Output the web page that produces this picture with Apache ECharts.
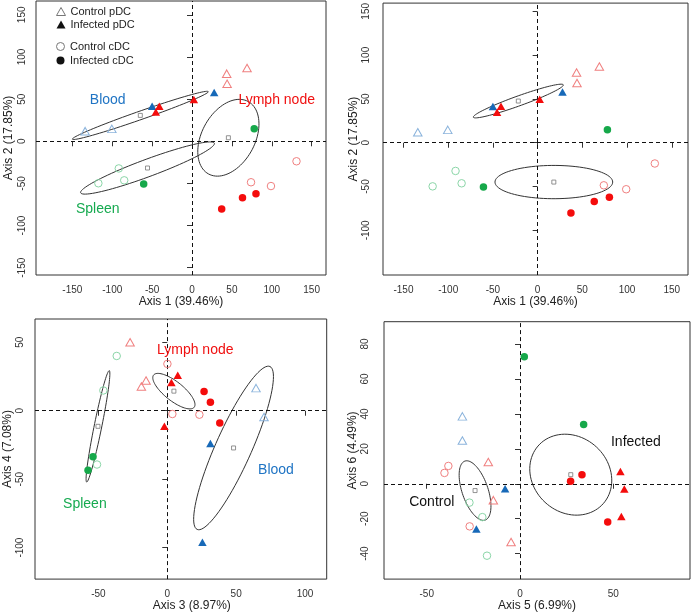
<!DOCTYPE html>
<html>
<head>
<meta charset="utf-8">
<script src="https://cdn.jsdelivr.net/npm/echarts/dist/echarts.min.js"></script>
<style>
html,body{margin:0;padding:0;background:#fff;}
#chart{width:691px;height:613px;}
</style>
</head>
<body>
<div id="chart"></div>
<script>
// ---------- Data: axes 1-2 (panels 1 and 2) ----------
const a12_ctrlPDC_blood  = [[-134, 12], [-100.5, 14.7]];
const a12_ctrlPDC_lymph  = [[43.5, 80.2], [44, 68.2], [69, 87]];
const a12_infPDC_blood   = [[-50, 41.5], [27.8, 57.8]];
const a12_infPDC_lymph   = [[-41, 41.7], [-45.4, 34.7], [2.3, 49.7]];
const a12_ctrlCDC_spleen = [[-91.8, -32.2], [-117.4, -49.8], [-85, -46.3]];
const a12_ctrlCDC_lymph  = [[131, -23.7], [74, -48.6], [99, -53.1]];
const a12_infCDC_spleen  = [[-60.6, -50.6], [78, 14.9]];
const a12_infCDC_lymph   = [[37.2, -80.2], [63.3, -67], [80.2, -62.2]];

// ---------- Data: axes 3-4 (panel 3) ----------
const a34_ctrlPDC_blood  = [[64.4, 16.5], [70.2, -4.6]];
const a34_ctrlPDC_lymph  = [[-27, 50], [-15.4, 22.1], [-18.8, 17.7]];
const a34_infPDC_blood   = [[31.3, -24], [25.5, -96.1]];
const a34_infPDC_lymph   = [[7.6, 26], [3, 20.6], [-2.1, -11.4]];
const a34_ctrlCDC_spleen = [[-36.7, 40], [-46.4, 14.8], [-51, -39.3]];
const a34_ctrlCDC_lymph  = [[0.1, 34.2], [3.7, -2.4], [23.3, -2.9]];
const a34_infCDC_spleen  = [[-53.9, -33.7], [-57.5, -43.4]];
const a34_infCDC_lymph   = [[26.7, 14.1], [31.3, 6.1], [38.1, -9]];

// ---------- Data: axes 5-6 (panel 4) ----------
const a56_ctrlPDC_blood  = [[-30.9, 38.6], [-30.9, 24.8]];
const a56_ctrlPDC_lymph  = [[-17, 12.5], [-14.3, -9.4], [-4.8, -33.4]];
const a56_infPDC_blood   = [[-8, -2.8], [-23.4, -25.9]];
const a56_infPDC_lymph   = [[53.8, 7], [55.9, -3], [54.3, -18.7]];
const a56_ctrlCDC_spleen = [[-27.1, -10.8], [-20.2, -19.1], [-17.7, -41.2]];
const a56_ctrlCDC_lymph  = [[-38.4, 10.2], [-40.5, 6.2], [-27, -24.4]];
const a56_infCDC_spleen  = [[2.3, 72.8], [34.1, 34]];
const a56_infCDC_lymph   = [[27.1, 1.5], [33.2, 5.1], [47, -21.9]];

// ---------- Ellipses: [centerX, centerY, majorEndX, majorEndY, minorEndX, minorEndY] ----------
const p1_ellipses = [
  [-64.8, 30.7, 20.4, 58.9, -66.6, 35.4],   // Blood
  [-55.8, -31.7, 28, -2.3, -59.5, -22.0],   // Spleen
  [45.6, 4.2, 70.6, 47.1, 74.7, -11.1]      // Lymph node
];
const p2_ellipses = [
  [-21.6, 47.6, 28.7, 66.1, -23.5, 52.9],
  [18.1, -44.9, 83.9, -44.9, 18.1, -25.9]
];
const p3_ellipses = [
  [-50.3, -11.4, -42.1, 29.3, -47.6, -12],  // Spleen
  [4.8, 14.3, 19.5, 2.5, 9.1, 19.7],        // Lymph node
  [48.1, -27.2, 74.5, 32.3, 60, -32.6]      // Blood
];
const p4_ellipses = [
  [-24.1, -3.9, -29.5, 13, -17.5, -1.6],    // Control
  [27.2, 5.2, 43.8, -12.3, 41.6, 20.4]      // Infected
];

// ---------- Group text labels ----------
const p1_labels = [['Blood', -105.7, 49.1, 'blood'], ['Lymph node', 106.2, 49.1, 'lymph'], ['Spleen', -118.2, -80.7, 'spleen']];
const p2_labels = [];
const p3_labels = [['Lymph node', 20.3, 44.4, 'lymph'], ['Spleen', -59.8, -67.9, 'spleen'], ['Blood', 78.9, -43.7, 'blood']];
const p4_labels = [['Infected', 62.1, 23.8, 'black'], ['Control', -47.3, -10.6, 'black']];

// ---------- Tick labels ----------
const p1_xTicks = [-150, -100, -50, 0, 50, 100, 150];
const p1_yTicks = [-150, -100, -50, 0, 50, 100, 150];
const p2_xTicks = [-150, -100, -50, 0, 50, 100, 150];
const p2_yTicks = [-100, -50, 0, 50, 100, 150];
const p3_xTicks = [-50, 0, 50, 100];
const p3_yTicks = [-100, -50, 0, 50];
const p4_xTicks = [-50, 0, 50];
const p4_yTicks = [-40, -20, 0, 20, 40, 60, 80];

const axisNames = ['Axis 1 (39.46%)', 'Axis 2 (17.85%)', 'Axis 3 (8.97%)', 'Axis 4 (7.08%)', 'Axis 5 (6.99%)', 'Axis 6 (4.49%)'];
const legendNames = ['Control pDC', 'Infected pDC', 'Control cDC', 'Infected cDC'];

// ---------- Styling ----------
const C = {
  blue: '#1769b8', red: '#f40c0c', green: '#16a84a',
  lblue: '#8ab3dc', lred: '#f08080', lgreen: '#8bd6a8',
  tblue: '#1f74c4', tred: '#f01010', tgreen: '#16aa50', black: '#111'
};
const FONT = 'Liberation Sans, Arial, Helvetica, sans-serif';

const groupDefs = [
  { key: 'ctrlPDC_blood',  symbol: 'triangle', open: true,  color: C.lblue },
  { key: 'ctrlPDC_lymph',  symbol: 'triangle', open: true,  color: C.lred },
  { key: 'infPDC_blood',   symbol: 'triangle', open: false, color: C.blue },
  { key: 'infPDC_lymph',   symbol: 'triangle', open: false, color: C.red },
  { key: 'ctrlCDC_spleen', symbol: 'circle',   open: true,  color: C.lgreen },
  { key: 'ctrlCDC_lymph',  symbol: 'circle',   open: true,  color: C.lred },
  { key: 'infCDC_spleen',  symbol: 'circle',   open: false, color: C.green },
  { key: 'infCDC_lymph',   symbol: 'circle',   open: false, color: C.red }
];

const set12 = { ctrlPDC_blood: a12_ctrlPDC_blood, ctrlPDC_lymph: a12_ctrlPDC_lymph, infPDC_blood: a12_infPDC_blood, infPDC_lymph: a12_infPDC_lymph,
  ctrlCDC_spleen: a12_ctrlCDC_spleen, ctrlCDC_lymph: a12_ctrlCDC_lymph, infCDC_spleen: a12_infCDC_spleen, infCDC_lymph: a12_infCDC_lymph };
const set34 = { ctrlPDC_blood: a34_ctrlPDC_blood, ctrlPDC_lymph: a34_ctrlPDC_lymph, infPDC_blood: a34_infPDC_blood, infPDC_lymph: a34_infPDC_lymph,
  ctrlCDC_spleen: a34_ctrlCDC_spleen, ctrlCDC_lymph: a34_ctrlCDC_lymph, infCDC_spleen: a34_infCDC_spleen, infCDC_lymph: a34_infCDC_lymph };
const set56 = { ctrlPDC_blood: a56_ctrlPDC_blood, ctrlPDC_lymph: a56_ctrlPDC_lymph, infPDC_blood: a56_infPDC_blood, infPDC_lymph: a56_infPDC_lymph,
  ctrlCDC_spleen: a56_ctrlCDC_spleen, ctrlCDC_lymph: a56_ctrlCDC_lymph, infCDC_spleen: a56_infCDC_spleen, infCDC_lymph: a56_infCDC_lymph };

const panels = [
  { grid: { left: 36, top: 1, width: 290, height: 274 }, data: set12, ell: p1_ellipses, labels: p1_labels,
    x: { min: -195.6, max: 168, ticks: p1_xTicks, name: axisNames[0], gap: 18, lm: 10, pad: 0 },
    y: { min: -158.6, max: 166.4, ticks: p1_yTicks, name: axisNames[1], gap: 21, lm: 9 } },
  { grid: { left: 383, top: 1, width: 305, height: 274 }, data: set12, ell: p2_ellipses, labels: p2_labels,
    x: { min: -172.9, max: 168.1, ticks: p2_xTicks, name: axisNames[0], gap: 18, lm: 10, pad: 0 },
    y: { min: -151, max: 159.4, ticks: p2_yTicks, name: axisNames[1], gap: 23, lm: 12 } },
  { grid: { left: 35, top: 319, width: 291.7, height: 261 }, data: set34, ell: p3_ellipses, labels: p3_labels,
    x: { min: -96, max: 115.7, ticks: p3_xTicks, name: axisNames[2], gap: 18, lm: 10, pad: 22 },
    y: { min: -123, max: 67, ticks: p3_yTicks, name: axisNames[3], gap: 20, lm: 10 } },
  { grid: { left: 384, top: 321.7, width: 306, height: 260 }, data: set56, ell: p4_ellipses, labels: p4_labels,
    x: { min: -72.9, max: 91.1, ticks: p4_xTicks, name: axisNames[4], gap: 17, lm: 10, pad: 0 },
    y: { min: -54.6, max: 92.8, ticks: p4_yTicks, name: axisNames[5], gap: 24, lm: 14 } }
];

const labelColor = { blood: C.tblue, lymph: C.tred, spleen: C.tgreen, black: C.black };

const grids = [], xAxes = [], yAxes = [], series = [];

panels.forEach((p, i) => {
  grids.push(Object.assign({ show: true, borderColor: '#333', borderWidth: 1, backgroundColor: 'transparent' }, p.grid));
  xAxes.push({
    type: 'value', gridIndex: i, min: p.x.min, max: p.x.max,
    name: p.x.name, nameLocation: 'middle', nameGap: p.x.gap,
    nameTextStyle: { fontSize: 12, color: '#222', fontFamily: FONT, padding: [0, 0, 0, p.x.pad] },
    axisLine: { show: false },
    axisTick: { show: true, inside: false, length: 5, customValues: p.x.ticks, lineStyle: { color: '#333' } },
    axisLabel: { show: true, customValues: p.x.ticks, fontSize: 10, color: '#333', margin: p.x.lm, fontFamily: FONT },
    splitLine: { show: false }
  });
  yAxes.push({
    type: 'value', gridIndex: i, min: p.y.min, max: p.y.max,
    name: p.y.name, nameLocation: 'middle', nameGap: p.y.gap,
    nameTextStyle: { fontSize: 12, color: '#222', fontFamily: FONT },
    axisLine: { show: false },
    axisTick: { show: true, inside: false, length: 5, customValues: p.y.ticks, lineStyle: { color: '#333' } },
    axisLabel: { show: true, customValues: p.y.ticks, rotate: 90, fontSize: 10, color: '#333', margin: p.y.lm, fontFamily: FONT },
    splitLine: { show: false }
  });

  // ellipses (drawn through axis scales)
  series.push({
    type: 'custom', name: 'ellipse' + i, xAxisIndex: i, yAxisIndex: i, silent: true, z: 3,
    data: p.ell, encode: { x: 0, y: 1 },
    renderItem: function (params, api) {
      const cx = api.value(0), cy = api.value(1);
      const ax = api.value(2) - cx, ay = api.value(3) - cy;
      const bx = api.value(4) - cx, by = api.value(5) - cy;
      const pts = [];
      const N = 90;
      for (let k = 0; k < N; k++) {
        const t = 2 * Math.PI * k / N;
        pts.push(api.coord([cx + ax * Math.cos(t) + bx * Math.sin(t), cy + ay * Math.cos(t) + by * Math.sin(t)]));
      }
      return { type: 'polygon', shape: { points: pts }, style: { fill: 'none', stroke: '#333', lineWidth: 1 } };
    }
  });

  // ellipse centres (small squares) + dashed zero lines
  series.push({
    type: 'scatter', name: 'centre' + i, xAxisIndex: i, yAxisIndex: i, silent: true, z: 4,
    data: p.ell.map(e => [e[0], e[1]]),
    symbol: 'rect', symbolSize: 4,
    itemStyle: { color: '#fff', borderColor: '#777', borderWidth: 0.8, opacity: 1 },
    markLine: {
      silent: true, symbol: 'none', animation: false,
      lineStyle: { type: [4, 3], color: '#111', width: 1 },
      label: { show: false },
      data: [{ xAxis: 0 }, { yAxis: 0 }]
    }
  });

  // points
  groupDefs.forEach(g => {
    series.push({
      type: 'scatter', name: 'p' + i + '_' + g.key, xAxisIndex: i, yAxisIndex: i, z: 5, silent: true,
      data: p.data[g.key],
      symbol: g.symbol,
      symbolSize: g.symbol === 'triangle' ? [8.5, 7.5] : 7.5,
      itemStyle: g.open
        ? { color: 'rgba(0,0,0,0)', borderColor: g.color, borderWidth: 1, opacity: 1 }
        : { color: g.color, borderWidth: 0, opacity: 1 }
    });
  });

  // group labels
  if (p.labels.length) {
    series.push({
      type: 'scatter', name: 'labels' + i, xAxisIndex: i, yAxisIndex: i, z: 6, silent: true,
      symbolSize: 0, itemStyle: { opacity: 1 },
      data: p.labels.map(l => ({ value: [l[1], l[2]], name: l[0], label: { color: labelColor[l[3]] } })),
      label: { show: true, position: 'inside', formatter: '{b}', fontSize: 14, fontFamily: FONT, opacity: 1 }
    });
  }
});

// dummy series for legend
const legendStyles = [
  { symbol: 'triangle', itemStyle: { color: 'rgba(0,0,0,0)', borderColor: '#777', borderWidth: 1, opacity: 1 } },
  { symbol: 'triangle', itemStyle: { color: '#111', borderWidth: 0, opacity: 1 } },
  { symbol: 'circle', itemStyle: { color: 'rgba(0,0,0,0)', borderColor: '#777', borderWidth: 1, opacity: 1 } },
  { symbol: 'circle', itemStyle: { color: '#111', borderWidth: 0, opacity: 1 } }
];
legendNames.forEach((n, k) => {
  series.push({ type: 'scatter', name: n, xAxisIndex: 0, yAxisIndex: 0, data: [], symbol: legendStyles[k].symbol, itemStyle: legendStyles[k].itemStyle });
});

const legendCommon = {
  orient: 'vertical', left: 51, itemWidth: 9, itemHeight: 8, itemGap: 2,
  textStyle: { fontSize: 11, color: '#222', fontFamily: FONT },
  selectedMode: false
};

const option = {
  animation: false,
  backgroundColor: '#fff',
  grid: grids,
  xAxis: xAxes,
  yAxis: yAxes,
  legend: [
    Object.assign({}, legendCommon, { top: 1, data: [
      { name: legendNames[0], icon: 'triangle', itemStyle: legendStyles[0].itemStyle },
      { name: legendNames[1], icon: 'triangle', itemStyle: legendStyles[1].itemStyle }
    ] }),
    Object.assign({}, legendCommon, { top: 36, itemGap: 3, data: [
      { name: legendNames[2], icon: 'circle', itemStyle: legendStyles[2].itemStyle },
      { name: legendNames[3], icon: 'circle', itemStyle: legendStyles[3].itemStyle }
    ] })
  ],
  series: series
};

const chart = echarts.init(document.getElementById('chart'), null, { renderer: 'canvas' });
chart.setOption(option);
</script>
</body>
</html>
